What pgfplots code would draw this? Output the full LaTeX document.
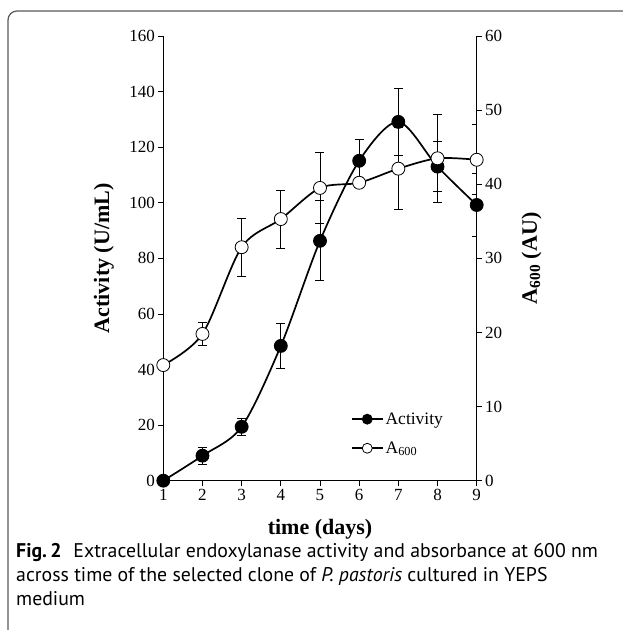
\documentclass[border=0pt]{standalone}
\usepackage{pgfplots}
\pgfplotsset{compat=1.18}
\usepackage{fontspec}
\setmainfont{Liberation Serif}
\newfontfamily\capfont{PT Sans}
\begin{document}
\begin{tikzpicture}[x=1pt,y=1pt]
\useasboundingbox (0,0) rectangle (622,630);
\draw[line width=1.2pt, gray!70!black, rounded corners=9pt] (8,-5) -- (8,619) -- (640,619);

\pgfplotsset{
  base/.style={scale only axis, width=313.4pt, height=444.7pt, at={(163.3pt,149.3pt)}, anchor=south west,
    xmin=1, xmax=9, tick align=outside, major tick length=5pt,
    tick style={black, line width=0.8pt},
    axis line style={line width=1pt},
    ticklabel style={font=\fontsize{17}{20}\selectfont},
    /pgf/number format/assume math mode=true,
  },
  ebar/.style={error bars/.cd, y dir=both, y explicit,
    error bar style={line width=0.9pt, black},
    error mark options={rotate=90, mark size=4.5pt, line width=0.9pt, black}},
}
\begin{axis}[base, axis x line*=bottom, axis y line*=left,
  ymin=0, ymax=160, ytick={0,20,...,160}, xtick={1,...,9},
  xlabel={time (days)}, ylabel={Activity (U/mL)},
  every axis x label/.style={at={(axis description cs:0.5,-0.12)}, anchor=base, font=\fontsize{22}{26}\selectfont\bfseries},
  every axis y label/.style={at={(axis description cs:-0.19,0.5)}, rotate=90, anchor=center, font=\fontsize{22}{26}\selectfont\bfseries},
]
\addplot[black, line width=1.7pt, smooth, tension=0.5, mark=*, mark size=6.5pt,
  mark options={fill=black, line width=0.8pt, solid}, ebar] table[y error=err] {
x y err
1 0 0
2 9 3
3 19.4 3
4 48.5 8
5 86.3 14.4
6 115.1 7.5
7 129.1 12
8 113 9
9 99.2 11.3
};
\end{axis}
\begin{axis}[base, axis y line*=right, axis x line=none,
  ymin=0, ymax=60, ytick={0,10,...,60},
  ylabel={A\textsubscript{600} (AU)},
  every axis y label/.style={at={(axis description cs:1.1755,0.5)}, rotate=90, anchor=center, font=\fontsize{22}{26}\selectfont\bfseries},
  legend style={draw=none, fill=none, inner sep=0pt, at={(axis description cs:0.598,0.158)}, anchor=north west,
    font=\fontsize{17.5}{20}\selectfont, row sep=12pt, cells={anchor=west}},
  legend image code/.code={\draw[#1] (0pt,0pt) -- (31pt,0pt); \draw[#1] plot coordinates {(15.5pt,0pt)};},
]
\addlegendimage{black, line width=1.7pt, mark=*, mark size=5pt, mark options={fill=black, line width=0.8pt, solid}}
\addlegendentry{Activity}
\addlegendimage{black, line width=1.7pt, mark=*, mark size=5pt, mark options={fill=white, line width=0.8pt, solid}}
\addlegendentry{A\textsubscript{600}}
\addplot[forget plot, black, line width=1.7pt, smooth, tension=0.5, mark=*, mark size=6.5pt,
  mark options={fill=white, line width=0.8pt, solid}, ebar] table[y error=err] {
x y err
1 15.6 0
2 19.8 1.6
3 31.5 3.9
4 35.3 3.9
5 39.5 4.8
6 40.2 0.6
7 42.1 5.5
8 43.5 5.9
9 43.3 4.7
};
\end{axis}
\node[anchor=base west, inner sep=0pt] at (16,72) {\capfont\fontsize{19.8}{24}\selectfont\textbf{Fig.\,2}\hspace{0.6em}Extracellular endoxylanase activity and absorbance at 600 nm};
\node[anchor=base west, inner sep=0pt] at (16,48) {\capfont\fontsize{19.8}{24}\selectfont across time of the selected clone of \textit{P. pastoris} cultured in YEPS};
\node[anchor=base west, inner sep=0pt] at (16,24) {\capfont\fontsize{19.8}{24}\selectfont medium};
\end{tikzpicture}
\end{document}
